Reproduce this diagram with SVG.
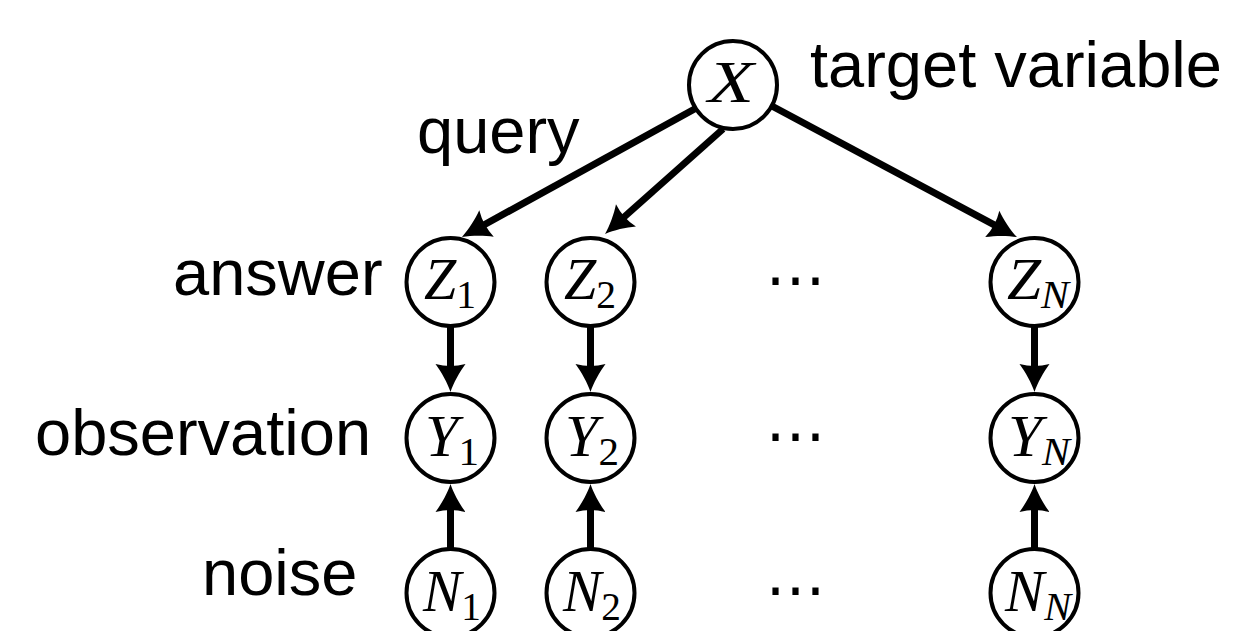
<svg xmlns="http://www.w3.org/2000/svg" width="1239" height="631" viewBox="0 0 1239 631">
  <style>
    .lbl { font-family: "Liberation Sans", Arial, Helvetica, sans-serif; font-size: 65px; fill: #000; }
    .math { font-family: "Liberation Serif", "Times New Roman", serif; font-size: 60px; fill: #000; text-anchor: middle; }
    .it { font-style: italic; }
    .sub { font-size: 41px; }
    .node circle { fill: #fff; stroke: #000; stroke-width: 4; }
    .edge { fill: none; stroke: #000; stroke-width: 7; }
    .dots { font-family: "DejaVu Sans", sans-serif; font-size: 60px; fill: #000; text-anchor: middle; }
  </style>
  <defs>
    <!-- latex-style arrowhead; tip sits 12px beyond the line end -->
    <marker id="arrow" markerUnits="userSpaceOnUse" viewBox="-29 -16 31 32" refX="-12" refY="0" markerWidth="31" markerHeight="32" orient="auto">
      <path d="M0,0 C-9,-3 -20,-9 -28,-15 Q-24,0 -28,15 C-20,9 -9,3 0,0 Z" fill="#000"/>
    </marker>
  </defs>

  <!-- connectors -->
  <g id="edges">
    <line class="edge" x1="700" y1="106" x2="472.5" y2="231.2" marker-end="url(#arrow)"/>
    <line class="edge" x1="723" y1="129" x2="614" y2="226" marker-end="url(#arrow)"/>
    <line class="edge" x1="770" y1="105" x2="1006.4" y2="231.4" marker-end="url(#arrow)"/>

    <line class="edge" x1="450.5" y1="326" x2="450.5" y2="380" marker-end="url(#arrow)"/>
    <line class="edge" x1="590.5" y1="326" x2="590.5" y2="380" marker-end="url(#arrow)"/>
    <line class="edge" x1="1034.5" y1="326" x2="1034.5" y2="380" marker-end="url(#arrow)"/>

    <line class="edge" x1="450.5" y1="549" x2="450.5" y2="496" marker-end="url(#arrow)"/>
    <line class="edge" x1="590.5" y1="549" x2="590.5" y2="496" marker-end="url(#arrow)"/>
    <line class="edge" x1="1034.5" y1="549" x2="1034.5" y2="496" marker-end="url(#arrow)"/>
  </g>

  <!-- target variable -->
  <g id="node-X" class="node">
    <circle cx="733" cy="85" r="44"/>
    <text class="math it" x="731" y="102" textLength="46" lengthAdjust="spacingAndGlyphs">X</text>
  </g>

  <!-- answers -->
  <g id="node-Z1" class="node">
    <circle cx="450.5" cy="282" r="44"/>
    <text class="math" x="450" y="299" textLength="52" lengthAdjust="spacingAndGlyphs"><tspan class="it">Z</tspan><tspan class="sub" dy="9">1</tspan></text>
  </g>
  <g id="node-Z2" class="node">
    <circle cx="590.5" cy="282" r="44"/>
    <text class="math" x="590" y="299" textLength="52" lengthAdjust="spacingAndGlyphs"><tspan class="it">Z</tspan><tspan class="sub" dy="9">2</tspan></text>
  </g>
  <g id="node-ZN" class="node">
    <circle cx="1034.5" cy="282" r="44"/>
    <text class="math" x="1038" y="299" textLength="62" lengthAdjust="spacingAndGlyphs"><tspan class="it">Z</tspan><tspan class="sub it" dy="9">N</tspan></text>
  </g>

  <!-- observations -->
  <g id="node-Y1" class="node">
    <circle cx="450.5" cy="438" r="44"/>
    <text class="math" x="452" y="456"><tspan class="it">Y</tspan><tspan class="sub" dy="9">1</tspan></text>
  </g>
  <g id="node-Y2" class="node">
    <circle cx="590.5" cy="438" r="44"/>
    <text class="math" x="592" y="456"><tspan class="it">Y</tspan><tspan class="sub" dy="9">2</tspan></text>
  </g>
  <g id="node-YN" class="node">
    <circle cx="1034.5" cy="438" r="44"/>
    <text class="math" x="1039" y="456" textLength="62" lengthAdjust="spacingAndGlyphs"><tspan class="it">Y</tspan><tspan class="sub it" dy="9">N</tspan></text>
  </g>

  <!-- noise -->
  <g id="node-N1" class="node">
    <circle cx="450.5" cy="593" r="44"/>
    <text class="math" x="452" y="611" textLength="58" lengthAdjust="spacingAndGlyphs"><tspan class="it">N</tspan><tspan class="sub" dy="9">1</tspan></text>
  </g>
  <g id="node-N2" class="node">
    <circle cx="590.5" cy="593" r="44"/>
    <text class="math" x="592" y="611" textLength="58" lengthAdjust="spacingAndGlyphs"><tspan class="it">N</tspan><tspan class="sub" dy="9">2</tspan></text>
  </g>
  <g id="node-NN" class="node">
    <circle cx="1034.5" cy="593" r="44"/>
    <text class="math" x="1038" y="611" textLength="66" lengthAdjust="spacingAndGlyphs"><tspan class="it">N</tspan><tspan class="sub it" dy="9">N</tspan></text>
  </g>

  <!-- ellipses between columns -->
  <g id="ellipses">
    <text class="dots" x="795.5" y="300">⋯</text>
    <text class="dots" x="795.5" y="456">⋯</text>
    <text class="dots" x="795.5" y="610">⋯</text>
  </g>

  <!-- row and node labels -->
  <g id="labels">
    <text class="lbl" x="810" y="87">target variable</text>
    <text class="lbl" x="417" y="153">query</text>
    <text class="lbl" x="173" y="295">answer</text>
    <text class="lbl" x="35" y="455">observation</text>
    <text class="lbl" x="202" y="595">noise</text>
  </g>
</svg>
